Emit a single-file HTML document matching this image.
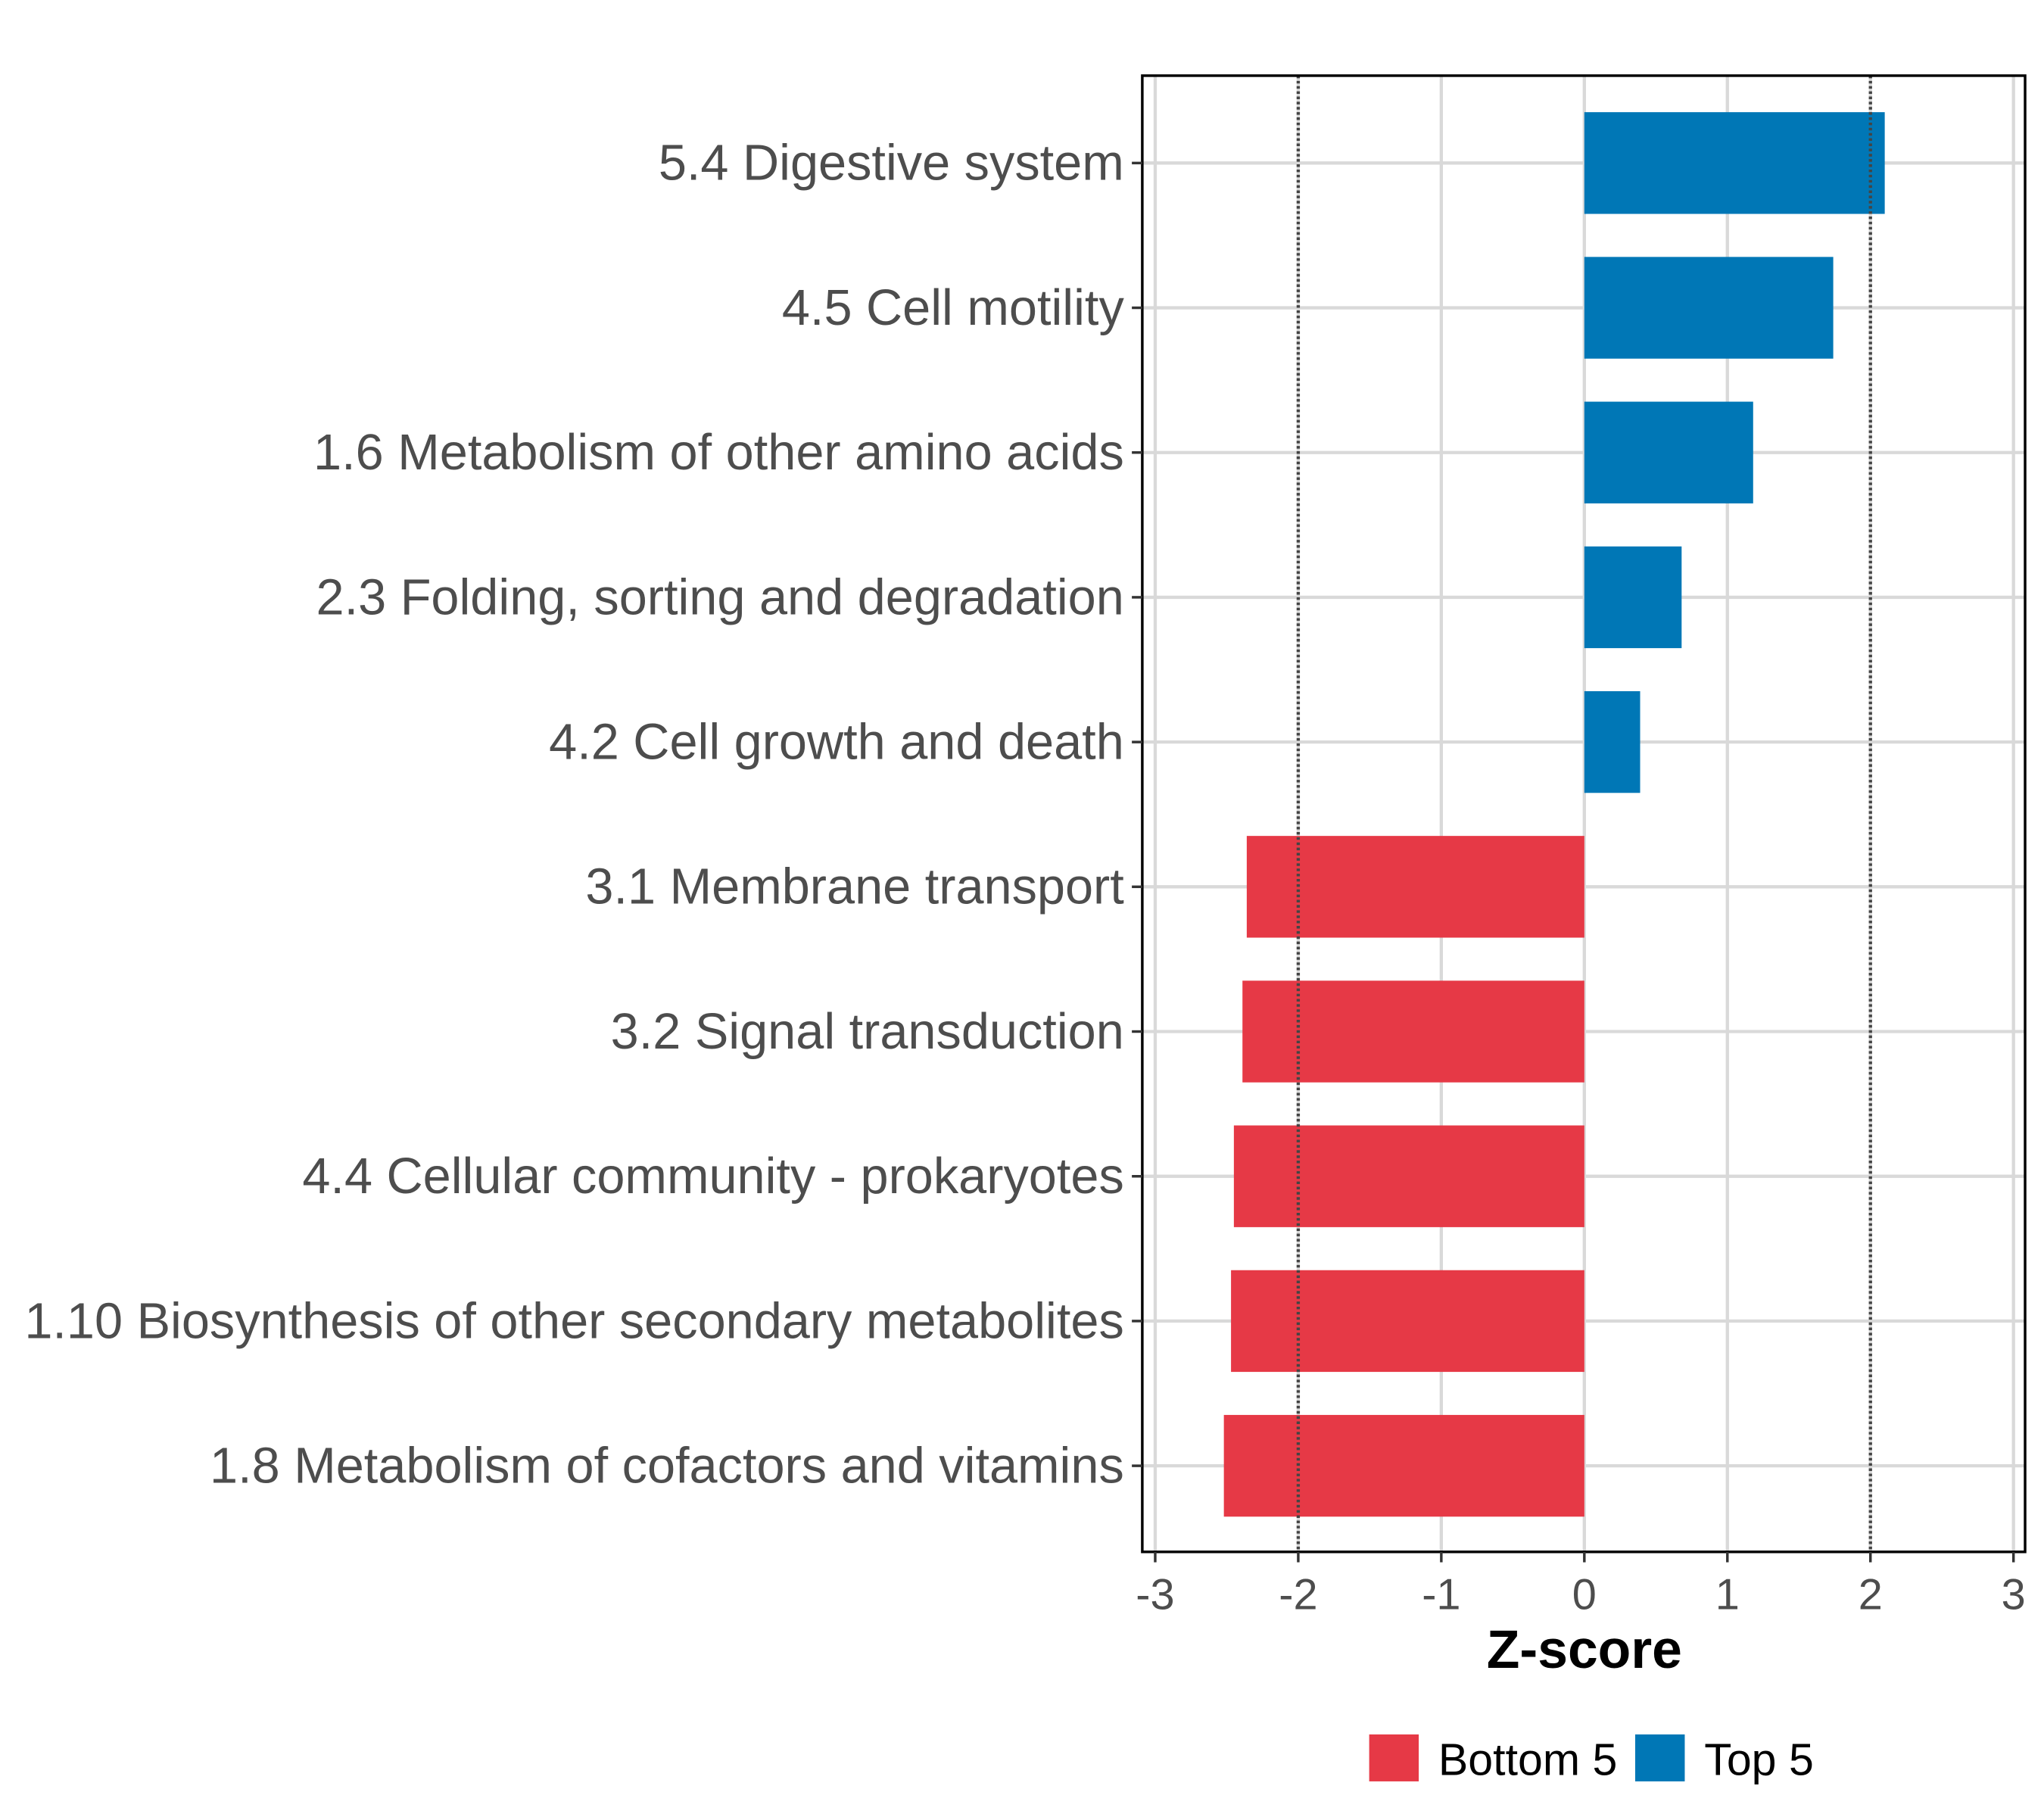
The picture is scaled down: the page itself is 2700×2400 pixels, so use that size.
<!DOCTYPE html>
<html><head><meta charset="utf-8"><style>html,body{margin:0;padding:0;background:#fff}svg{display:block}</style></head>
<body>
<svg id="chart" xmlns="http://www.w3.org/2000/svg" width="2700" height="2400" viewBox="0 0 1567.5 1393.3" font-family="'Liberation Sans', sans-serif"></svg>
<script>
const categories = ["5.4 Digestive system","4.5 Cell motility","1.6 Metabolism of other amino acids","2.3 Folding, sorting and degradation","4.2 Cell growth and death","3.1 Membrane transport","3.2 Signal transduction","4.4 Cellular community - prokaryotes","1.10 Biosynthesis of other secondary metabolites","1.8 Metabolism of cofactors and vitamins"];
const zValues = [2.10, 1.74, 1.18, 0.68, 0.39, -2.36, -2.39, -2.45, -2.47, -2.52];
const groups = ["Top 5","Top 5","Top 5","Top 5","Top 5","Bottom 5","Bottom 5","Bottom 5","Bottom 5","Bottom 5"];
const xTicks = [-3,-2,-1,0,1,2,3];
const xTickLabels = ["-3","-2","-1","0","1","2","3"];
const thresholds = [-2, 2];
const legendItems = ["Bottom 5","Top 5"];

const NS = "http://www.w3.org/2000/svg";
const svg = document.getElementById("chart");
const P = {l:876, r:1553, t:58, b:1190};
const colors = {"Top 5":"#0077B6","Bottom 5":"#E63946"};
function xs(v){ return 1215 + v*109.7; }
function ys(i){ return 125 + i*111; }
function mk(tag, attrs, parent){ const e=document.createElementNS(NS,tag); for(const k in attrs) e.setAttribute(k,attrs[k]); (parent||svg).appendChild(e); return e; }

xTicks.forEach((t,i)=>{
  const g = mk("line",{x1:xs(t),x2:xs(t),y1:P.t,y2:P.b,stroke:"#d9d9d9","stroke-width":2.5});
  
  
});
categories.forEach((c,i)=>{
  const g = mk("line",{x1:P.l,x2:P.r,y1:ys(i),y2:ys(i),stroke:"#d9d9d9","stroke-width":2.5});
  
  
});
categories.forEach((c,i)=>{
  const v = zValues[i];
  const x0 = Math.min(xs(0), xs(v)), w = Math.abs(xs(v)-xs(0));
  const b = mk("rect",{x:x0,y:ys(i)-39,width:w,height:78,fill:colors[groups[i]]});
  
  
});
thresholds.forEach(t=>{
  const l = mk("line",{x1:xs(t),x2:xs(t),y1:P.t,y2:P.b,stroke:"#444","stroke-width":2.5,"stroke-dasharray":"2,2"});
  
  
});
const border = mk("rect",{x:P.l,y:P.t,width:P.r-P.l,height:P.b-P.t,fill:"none",stroke:"#000","stroke-width":2});


categories.forEach((c,i)=>{
  mk("line",{x1:P.l-8,x2:P.l,y1:ys(i),y2:ys(i),stroke:"#333","stroke-width":2});
  const t = mk("text",{x:862,y:ys(i)+13,"text-anchor":"end","font-size":38.7,fill:"#4d4d4d"});
  t.textContent = c;
  
  
});
xTicks.forEach((v,i)=>{
  mk("line",{x1:xs(v),x2:xs(v),y1:P.b,y2:P.b+8,stroke:"#333","stroke-width":2});
  const t = mk("text",{x:xs(v),y:1234,"text-anchor":"middle","font-size":33.5,fill:"#4d4d4d"});
  t.textContent = xTickLabels[i];
  
  
});
const xt = mk("text",{x:1215,y:1279,"text-anchor":"middle","font-size":41.5,"font-weight":"bold",fill:"#000"});
xt.textContent = "Z-score";


const lx = [1050, 1254];
legendItems.forEach((g,i)=>{
  const r = mk("rect",{x:lx[i],y:1330,width:38,height:36,fill:colors[g]});
  
  
  const t = mk("text",{x:lx[i]+53,y:1361,"font-size":34.3,fill:"#000"});
  t.textContent = g;
  
  
});
</script>
</body></html>
